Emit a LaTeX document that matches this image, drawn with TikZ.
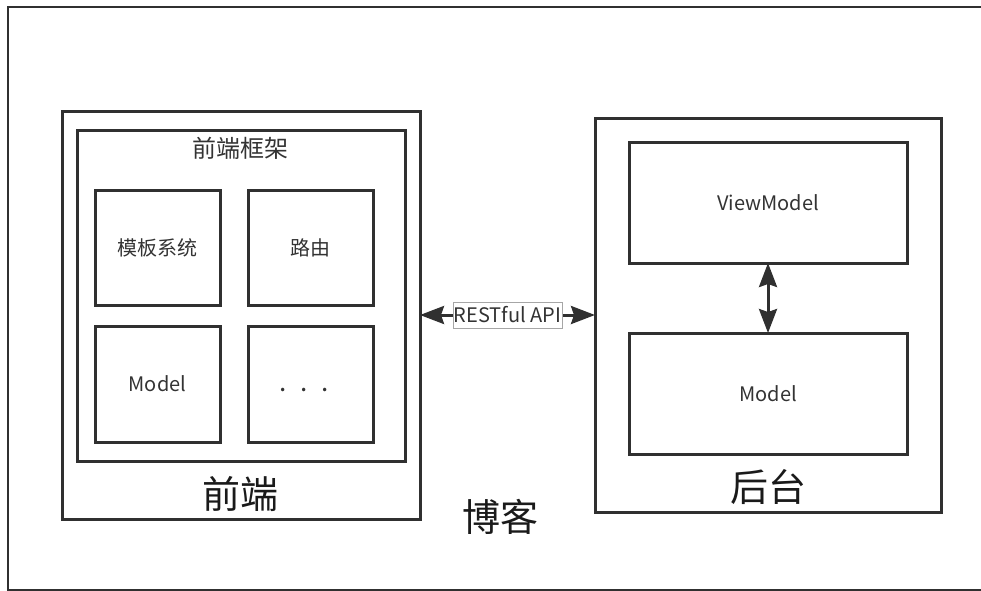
\documentclass[tikz,border=0pt]{standalone}
\usepackage{fontspec}
\setmainfont{Noto Sans CJK SC}
\usetikzlibrary{arrows.meta}
\definecolor{ln}{HTML}{303030}
\definecolor{tx}{HTML}{333333}
\definecolor{big}{HTML}{1A1A1A}
\tikzset{
  box/.style={draw=ln, line width=3pt, rectangle, inner sep=0pt, outer sep=0pt, text=tx},
  lbl/.style={inner sep=0pt, text=tx, font=\fontsize{20pt}{22pt}\selectfont},
  biglbl/.style={inner sep=0pt, text=big, font=\fontsize{38pt}{40pt}\selectfont},
  dbl/.style={draw=ln, line width=3pt, {Stealth[length=24pt,width=18pt,inset=3pt]}-{Stealth[length=24pt,width=18pt,inset=3pt]}},
  apilbl/.style={draw=black!35, line width=0.8pt, fill=white, text=tx, inner xsep=1pt, inner ysep=2pt, minimum height=26pt, font=\fontsize{20pt}{22pt}\selectfont}
}
\begin{document}
\begin{tikzpicture}[x=1pt,y=-1pt]
\useasboundingbox (0,0) rectangle (981,590);
\begin{scope}
\clip (0,0) rectangle (981,590);
\draw[ln, line width=2.8pt] (8,7) rectangle (1010,590);
\end{scope}
% front end
\node[box, minimum width=358pt, minimum height=408pt] (front) at (241,315) {};
\node[box, minimum width=328pt, minimum height=331pt] (frame) at (241,295.5) {};
\node[lbl, font=\fontsize{24pt}{26pt}\selectfont] (frametitle) at (240,148) {前端框架};
\node[box, lbl, minimum width=125pt, minimum height=115pt] (tpl) at (157.5,247.5) {模板系统};
\node[box, lbl, minimum width=125pt, minimum height=115pt] (route) at (310.5,247.5) {路由};
\node[box, lbl, minimum width=125pt, minimum height=116pt] (fmodel) at (157.5,384) {Model};
\node[box, minimum width=125pt, minimum height=116pt] (more) at (310.5,384) {};
\node[lbl, font=\fontsize{26pt}{28pt}\selectfont] (dots) at (304,390) {.\hspace{14pt}.\hspace{14pt}.};
\node[biglbl] (frontlbl) at (240,494) {前端};
% back end
\node[box, minimum width=346pt, minimum height=394pt] (back) at (768,315) {};
\node[box, lbl, minimum width=278pt, minimum height=121pt] (vm) at (768,202.5) {ViewModel};
\node[box, lbl, minimum width=278pt, minimum height=121pt] (bmodel) at (768,393.5) {Model};
\node[biglbl] (backlbl) at (768,487) {后台};
% blog
\node[biglbl] (blog) at (500,517) {博客};
% connectors
\draw[dbl] (front.east) -- node[apilbl] (api) {RESTful API} (back.west);
\draw[dbl] (vm.south) -- (bmodel.north);
\end{tikzpicture}
\end{document}
